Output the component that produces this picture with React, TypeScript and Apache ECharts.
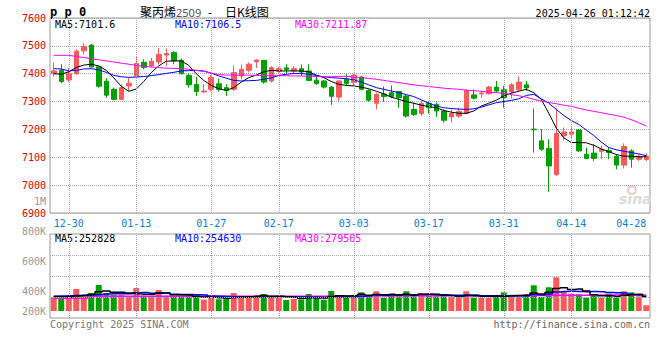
import React, { useEffect, useRef } from 'react';
import * as echarts from 'echarts';

const dates = ["12-26","12-27","12-30","12-31","01-02","01-03","01-06","01-07","01-08","01-09","01-10","01-13","01-14","01-15","01-16","01-17","01-20","01-21","01-22","01-23","01-24","01-27","02-05","02-06","02-07","02-10","02-11","02-12","02-13","02-14","02-17","02-18","02-19","02-20","02-21","02-24","02-25","02-26","02-27","02-28","03-03","03-04","03-05","03-06","03-07","03-10","03-11","03-12","03-13","03-14","03-17","03-18","03-19","03-20","03-21","03-24","03-25","03-26","03-27","03-28","03-31","04-01","04-02","04-03","04-07","04-08","04-09","04-10","04-11","04-14","04-15","04-16","04-17","04-18","04-21","04-22","04-23","04-24","04-25","04-28"];

const openP = [7400,7412,7378,7400,7482,7503,7425,7373,7344,7308,7356,7392,7441,7428,7442,7467,7476,7448,7394,7361,7335,7344,7364,7350,7344,7392,7412,7443,7448,7374,7409,7421,7410,7418,7410,7377,7374,7352,7316,7380,7368,7388,7340,7294,7327,7332,7336,7320,7272,7257,7293,7290,7266,7245,7248,7257,7324,7328,7328,7352,7342,7335,7342,7360,7201,7159,7132,7038,7177,7183,7198,7111,7115,7122,7124,7103,7072,7123,7093,7092];
const closeP = [7410,7372,7400,7481,7498,7424,7355,7323,7308,7350,7366,7437,7422,7445,7469,7472,7446,7400,7360,7336,7338,7386,7344,7339,7404,7416,7434,7449,7370,7422,7418,7415,7418,7406,7376,7365,7352,7319,7374,7365,7395,7344,7305,7326,7318,7318,7314,7248,7254,7293,7278,7266,7233,7257,7264,7340,7312,7331,7352,7338,7314,7360,7370,7349,7199,7129,7069,7186,7191,7191,7123,7096,7096,7129,7117,7072,7139,7093,7103,7104];
const lowP = [7390,7366,7370,7396,7470,7422,7350,7314,7304,7304,7338,7388,7416,7422,7433,7428,7434,7397,7350,7320,7330,7336,7336,7320,7338,7380,7404,7421,7364,7368,7404,7400,7400,7392,7374,7360,7347,7288,7302,7359,7356,7340,7299,7272,7299,7312,7278,7242,7248,7248,7257,7245,7225,7225,7242,7254,7308,7314,7326,7332,7278,7311,7338,7338,7117,7123,6976,7033,7161,7165,7119,7093,7087,7093,7093,7057,7060,7063,7087,7087];
const highP = [7440,7434,7420,7488,7509,7506,7428,7384,7350,7362,7386,7463,7452,7457,7493,7491,7481,7455,7400,7388,7362,7395,7383,7362,7430,7433,7440,7452,7449,7427,7425,7434,7427,7433,7434,7392,7376,7356,7376,7398,7400,7392,7344,7332,7354,7358,7338,7326,7296,7302,7302,7296,7272,7272,7278,7344,7344,7338,7356,7374,7356,7366,7390,7374,7275,7201,7165,7275,7207,7207,7201,7135,7147,7141,7135,7111,7150,7129,7111,7114];

const ma5 = [7400,7398,7407,7422,7431,7434,7428,7412,7385,7355,7337,7345,7372,7404,7428,7445,7446,7446,7430,7400,7376,7358,7346,7340,7350,7370,7386,7395,7407,7412,7410,7410,7410,7410,7407,7395,7386,7372,7362,7358,7356,7352,7346,7337,7328,7316,7308,7300,7294,7287,7282,7278,7268,7262,7258,7258,7266,7284,7294,7305,7320,7330,7337,7344,7332,7308,7258,7205,7170,7153,7153,7152,7143,7130,7120,7110,7104,7104,7102,7102];
const ma10 = [7418,7417,7410,7412,7417,7418,7414,7405,7394,7389,7387,7388,7390,7393,7397,7401,7405,7410,7411,7412,7410,7402,7392,7384,7376,7374,7375,7376,7380,7385,7394,7398,7401,7401,7398,7394,7389,7386,7384,7382,7378,7370,7360,7350,7344,7338,7332,7325,7318,7306,7294,7284,7278,7275,7273,7272,7274,7280,7288,7296,7300,7304,7310,7322,7326,7310,7294,7272,7250,7232,7218,7198,7178,7155,7135,7127,7122,7117,7112,7106];
const ma30 = [7466,7466,7466,7462,7458,7454,7450,7446,7442,7438,7434,7430,7427,7424,7422,7420,7419,7418,7416,7412,7408,7402,7397,7395,7395,7395,7395,7394,7393,7393,7393,7393,7392,7392,7391,7390,7389,7389,7390,7391,7388,7386,7383,7380,7376,7372,7368,7364,7360,7357,7354,7351,7348,7346,7344,7341,7339,7337,7334,7332,7330,7325,7321,7316,7308,7302,7297,7292,7287,7283,7276,7270,7265,7260,7255,7250,7244,7235,7224,7212];

const volume = [240000,222000,240000,385000,280000,315000,455000,315000,280000,280000,245000,402000,268000,268000,368000,268000,257000,257000,257000,257000,198000,233000,205000,222000,315000,257000,257000,240000,298000,250000,257000,193000,210000,205000,298000,222000,198000,350000,275000,268000,233000,327000,275000,345000,233000,292000,257000,345000,257000,310000,292000,257000,257000,245000,245000,345000,233000,233000,233000,268000,327000,275000,257000,268000,450000,245000,415000,590000,333000,303000,292000,233000,268000,233000,303000,233000,345000,327000,257000,100000];
const volMa5 = [255000,250000,248000,262000,273000,288000,335000,350000,329000,329000,315000,304000,295000,293000,310000,315000,286000,284000,281000,259000,245000,240000,230000,223000,235000,246000,251000,258000,273000,260000,260000,248000,242000,223000,233000,226000,227000,255000,269000,263000,265000,291000,276000,290000,283000,294000,280000,294000,277000,292000,292000,292000,275000,272000,259000,270000,265000,260000,258000,262000,259000,267000,272000,279000,315000,299000,327000,394000,407000,377000,387000,350000,286000,266000,266000,254000,276000,288000,293000,253000];
const volMa10 = [260000,262000,265000,270000,275000,280000,290000,298000,300000,301000,302000,320000,322000,311000,320000,315000,295000,290000,287000,285000,280000,263000,257000,252000,247000,246000,246000,244000,248000,248000,253000,250000,250000,248000,247000,243000,238000,249000,246000,248000,246000,259000,266000,280000,273000,280000,286000,285000,284000,288000,293000,286000,285000,275000,276000,281000,279000,268000,265000,261000,265000,266000,266000,269000,289000,279000,297000,333000,343000,346000,343000,339000,340000,337000,322000,321000,313000,287000,280000,255000];
const volMa30 = [222000,222000,222000,222000,222000,258000,258000,258000,258000,258000,258000,258000,258000,258000,258000,258000,258000,258000,258000,258000,258000,260000,260000,260000,260000,260000,260000,260000,260000,260000,260000,260000,260000,260000,260000,260000,260000,260000,260000,260000,260000,265000,265000,265000,265000,265000,265000,265000,265000,265000,265000,265000,265000,265000,265000,265000,265000,265000,265000,265000,265000,270000,270000,270000,270000,270000,270000,274000,275000,276000,277000,277000,278000,278000,279000,279000,279000,280000,280000,280000];

const axisDates = ["12-30","01-13","01-27","02-17","03-03","03-17","03-31","04-14","04-28"];
const gridDates = ["12-30","01-13","01-27","02-17","03-03","03-17","03-31","04-14"];
const priceMin = 6900, priceMax = 7600, priceStep = 100;
const volTickValues = [200000,400000,600000,800000,1000000];
const volTickLabels = ["200K","400K","600K","800K","1M"];
const volAxisMin = -122500, volAxisMax = 1347500;
const volGridValues = [245000, 612500, 980000];

const legendPrice = { ma5: "7101.6", ma10: "7106.5", ma30: "7211.87" };
const legendVol = { ma5: "252828", ma10: "254630", ma30: "279505" };

const RED = '#f85a5a';
const GREEN = '#00a000';
const MONO = '"DejaVu Sans Mono", "Liberation Mono", monospace';
const CJK = '"Noto Sans CJK SC", sans-serif';
const GRIDC = '#aaaaaa';

function txt(x: number, y: number, text: string, fill: string, font: string, align = 'left') {
  return {
    type: 'text', x, y, silent: true,
    style: { text, fill, font, align, textAlign: align, verticalAlign: 'middle', textVerticalAlign: 'middle' },
  };
}

export default function App() {
  const ref = useRef<HTMLDivElement>(null);
  useEffect(() => {
    if (!ref.current) return;
    const chart = echarts.init(ref.current, null, { renderer: 'svg' });
    const vLines = { symbol: ['none', 'none'], silent: true, label: { show: false }, lineStyle: { type: 'dotted', color: GRIDC, width: 1 } };
    const option: any = {
      animation: false,
      backgroundColor: '#ffffff',
      grid: [
        { left: 50, top: 18, width: 600, height: 195, show: true, borderColor: '#999', borderWidth: 1, backgroundColor: 'transparent' },
        { left: 50, top: 234, width: 600, height: 84, show: true, borderColor: '#999', borderWidth: 1, backgroundColor: 'transparent' },
        { left: 50, top: 201, width: 600, height: 120, show: false },
      ],
      xAxis: [
        {
          type: 'category', gridIndex: 0, data: dates, boundaryGap: true,
          axisLine: { show: false }, axisTick: { show: false }, splitLine: { show: false },
          axisLabel: {
            interval: (_i: number, v: string) => axisDates.includes(v),
            color: '#0a80d0', fontFamily: MONO, fontSize: 10, margin: 5, alignMaxLabel: 'right',
          },
        },
        {
          type: 'category', gridIndex: 1, data: dates, boundaryGap: true,
          axisLine: { show: false }, axisTick: { show: false }, axisLabel: { show: false }, splitLine: { show: false },
        },
        { type: 'value', gridIndex: 2, show: false },
      ],
      yAxis: [
        {
          type: 'value', gridIndex: 0, min: priceMin, max: priceMax, interval: priceStep,
          axisLine: { show: false }, axisTick: { show: false },
          splitLine: { show: true, lineStyle: { type: 'dotted', color: GRIDC, width: 1 } },
          axisLabel: { color: '#e00000', fontFamily: MONO, fontSize: 10, margin: 4, formatter: (v: number) => String(v) },
        },
        {
          type: 'value', gridIndex: 1, min: volAxisMin, max: volAxisMax,
          axisLine: { show: false }, axisTick: { show: false }, axisLabel: { show: false }, splitLine: { show: false },
        },
        {
          type: 'value', gridIndex: 2, min: volTickValues[0], max: volTickValues[volTickValues.length - 1], interval: 200000,
          axisLine: { show: false }, axisTick: { show: false }, splitLine: { show: false },
          axisLabel: {
            color: '#999', fontFamily: MONO, fontSize: 10, margin: 4,
            formatter: (v: number) => {
              const i = volTickValues.indexOf(v);
              const s = i >= 0 ? volTickLabels[i] : '';
              return i === 0 ? '{lo|' + s + '}' : s;
            },
            rich: { lo: { color: '#999', fontFamily: MONO, fontSize: 10, padding: [0, 0, 20, 0] } },
          },
        },
      ],
      series: [
        {
          type: 'candlestick', xAxisIndex: 0, yAxisIndex: 0, barWidth: 5,
          data: dates.map((_, i) => [openP[i], closeP[i], lowP[i], highP[i]]),
          itemStyle: { color: RED, color0: GREEN, borderColor: RED, borderColor0: GREEN, borderWidth: 1 },
          silent: true,
          markLine: { ...vLines, data: gridDates.map((d) => ({ xAxis: d })) },
        },
        { type: 'line', xAxisIndex: 0, yAxisIndex: 0, data: ma5, symbol: 'none', silent: true, lineStyle: { color: '#000', width: 1 } },
        { type: 'line', xAxisIndex: 0, yAxisIndex: 0, data: ma10, symbol: 'none', silent: true, lineStyle: { color: '#0000ff', width: 1 } },
        { type: 'line', xAxisIndex: 0, yAxisIndex: 0, data: ma30, symbol: 'none', silent: true, lineStyle: { color: '#ff00ff', width: 1 } },
        {
          type: 'bar', xAxisIndex: 1, yAxisIndex: 1, barWidth: 6, silent: true,
          data: volume.map((v, i) => ({ value: v, itemStyle: { color: closeP[i] >= openP[i] ? RED : GREEN } })),
          markLine: { ...vLines, data: [...gridDates.map((d) => ({ xAxis: d })), ...volGridValues.map((v) => ({ yAxis: v }))] },
        },
        { type: 'line', xAxisIndex: 1, yAxisIndex: 1, data: volMa30, step: 'middle', symbol: 'none', silent: true, lineStyle: { color: '#ff00ff', width: 1.5 } },
        { type: 'line', xAxisIndex: 1, yAxisIndex: 1, data: volMa10, step: 'middle', symbol: 'none', silent: true, lineStyle: { color: '#0000ff', width: 1.5 } },
        { type: 'line', xAxisIndex: 1, yAxisIndex: 1, data: volMa5, step: 'middle', symbol: 'none', silent: true, lineStyle: { color: '#000', width: 1.5 } },
      ],
      graphic: [
        txt(50, 12, 'p p 0', '#000', 'bold 12px ' + MONO),
        txt(140, 11, '聚丙烯', '#000', '12px ' + CJK),
        txt(176, 12, '2509', '#555', '11px "Noto Sans", sans-serif'),
        txt(210, 11, '-', '#000', '12px ' + CJK, 'center'),
        txt(225, 11, '日K线图', '#000', '12px ' + CJK),
        txt(650, 13, '2025-04-26 01:12:42', '#000', '10px ' + MONO, 'right'),
        txt(55, 24, 'MA5:' + legendPrice.ma5, '#000', '10px ' + MONO),
        txt(175, 24, 'MA10:' + legendPrice.ma10, '#0000ff', '10px ' + MONO),
        txt(295, 24, 'MA30:' + legendPrice.ma30, '#ff00ff', '10px ' + MONO),
        txt(55, 238, 'MA5:' + legendVol.ma5, '#000', '10px ' + MONO),
        txt(175, 238, 'MA10:' + legendVol.ma10, '#0000ff', '10px ' + MONO),
        txt(295, 238, 'MA30:' + legendVol.ma30, '#ff00ff', '10px ' + MONO),
        txt(50, 324, 'Copyright 2025 SINA.COM', '#777', '10px ' + MONO),
        txt(650, 324, 'http://finance.sina.com.cn', '#666', '10px ' + MONO, 'right'),
        { type: 'circle', silent: true, shape: { cx: 632, cy: 190, r: 4 }, style: { fill: 'none', stroke: '#f3c4c4', lineWidth: 2 } },
        txt(619, 199, 'sina', '#dcdcdc', 'italic bold 14px "DejaVu Sans", sans-serif'),
      ],
    };
    chart.setOption(option);
    return () => chart.dispose();
  }, []);
  return <div ref={ref} style={{ position: 'fixed', left: 0, top: 0, width: 660, height: 360, background: '#fff' }} />;
}
